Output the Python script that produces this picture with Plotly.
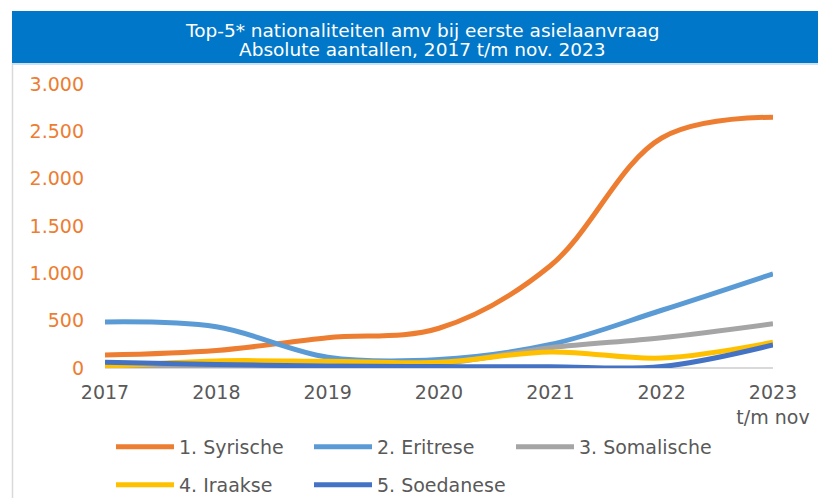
import plotly.graph_objects as go

years = [2017, 2018, 2019, 2020, 2021, 2022, 2023]
tick_labels = ["2017", "2018", "2019", "2020", "2021", "2022", "2023<br>t/m nov"]
syrische = [137, 185, 320, 420, 1080, 2430, 2650]
eritrese = [487, 435, 115, 90, 248, 610, 995]
somalische = [10, 15, 15, 45, 215, 320, 468]
iraakse = [15, 75, 70, 60, 170, 105, 272]
soedanese = [60, 38, 20, 15, 12, 15, 243]

y_tickvals = [0, 500, 1000, 1500, 2000, 2500, 3000]
y_ticktext = ["0", "500", "1.000", "1.500", "2.000", "2.500", "3.000"]

series = [
    ("1. Syrische", syrische, "#ED7D31", "legend"),
    ("2. Eritrese", eritrese, "#5B9BD5", "legend"),
    ("3. Somalische", somalische, "#A5A5A5", "legend3"),
    ("4. Iraakse", iraakse, "#FFC000", "legend2"),
    ("5. Soedanese", soedanese, "#4472C4", "legend2"),
]

FONT = "Verdana, DejaVu Sans, sans-serif"
W, H = 818, 498
L, R, T, B = 105, 45, 84, 130
pw = W - L - R
ph = H - T - B


def px2x(px):
    return (px - L) / pw


def py2y(py):
    return (H - B - py) / ph


fig = go.Figure()
for name, vals, color, leg in series:
    fig.add_trace(go.Scatter(
        x=years, y=vals, name=name, mode="lines",
        line=dict(color=color, width=5, shape="spline", smoothing=1.0),
        legend=leg,
    ))

shapes = [
    dict(type="rect", xref="paper", yref="paper",
         x0=px2x(12), x1=px2x(830), y0=py2y(63), y1=py2y(11),
         fillcolor="#0077C8", line=dict(width=0), layer="below"),
    dict(type="line", xref="paper", yref="paper",
         x0=px2x(12.5), x1=px2x(12.5), y0=py2y(63), y1=py2y(500),
         line=dict(color="#D9D9D9", width=1.5)),
    dict(type="line", xref="paper", yref="paper",
         x0=px2x(12), x1=px2x(830), y0=py2y(64), y1=py2y(64),
         line=dict(color="#BDD7EE", width=1.5)),
]

annotations = [
    dict(text="Top-5* nationaliteiten amv bij eerste asielaanvraag",
         xref="paper", yref="paper", x=px2x(422), y=py2y(31),
         showarrow=False, font=dict(family=FONT, size=18.5, color="white"),
         xanchor="center", yanchor="middle"),
    dict(text="Absolute aantallen, 2017 t/m nov. 2023",
         xref="paper", yref="paper", x=px2x(422), y=py2y(50),
         showarrow=False, font=dict(family=FONT, size=18.5, color="white"),
         xanchor="center", yanchor="middle"),
]

leg_common = dict(orientation="h", xanchor="left", yanchor="middle",
                  entrywidth=125, entrywidthmode="pixels", itemwidth=58,
                  traceorder="normal",
                  font=dict(family=FONT, size=19, color="#595959"),
                  bgcolor="rgba(0,0,0,0)")
leg3 = dict(leg_common)
leg3["entrywidth"] = 0

fig.update_layout(
    width=W, height=H,
    margin=dict(l=L, r=R, t=T, b=B, autoexpand=False),
    paper_bgcolor="white", plot_bgcolor="white",
    font=dict(family=FONT, size=19, color="#595959"),
    shapes=shapes, annotations=annotations,
    showlegend=True,
    legend=dict(x=px2x(111), y=py2y(447), **leg_common),
    legend2=dict(x=px2x(111), y=py2y(485), **leg_common),
    legend3=dict(x=px2x(511), y=py2y(447), **leg3),
    xaxis=dict(range=[2017, 2023], tickvals=years, ticktext=tick_labels,
               showgrid=False, zeroline=False, showline=False,
               ticks="outside", ticklen=7, tickcolor="rgba(0,0,0,0)",
               tickfont=dict(family=FONT, size=19, color="#595959"), fixedrange=True),
    yaxis=dict(range=[0, 3000], tickvals=y_tickvals, ticktext=y_ticktext,
               showgrid=False, zeroline=True, zerolinecolor="#D9D9D9", zerolinewidth=2,
               showline=False, ticks="", ticklabelstandoff=20,
               tickfont=dict(family=FONT, size=19, color="#ED7D31"), fixedrange=True),
)

fig.write_html("out.html", config={"displayModeBar": False},
               post_script="document.body.style.margin='0';document.body.style.overflow='hidden';")
